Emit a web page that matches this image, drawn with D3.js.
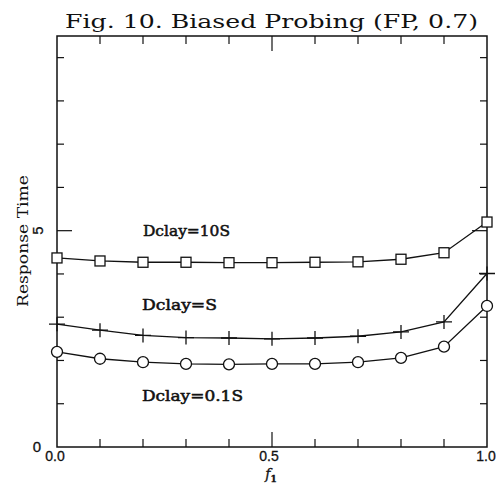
<!DOCTYPE html>
<html><head><meta charset="utf-8">
<script src="https://cdn.jsdelivr.net/npm/d3@7"></script>
<style>body{margin:0;background:#fff}svg{display:block}</style>
</head><body>
<script>
const xValues = [0.0,0.1,0.2,0.3,0.4,0.5,0.6,0.7,0.8,0.9,1.0];
const delay10S = [4.37,4.30,4.27,4.27,4.26,4.26,4.27,4.28,4.34,4.49,5.20];
const delayS   = [2.84,2.70,2.58,2.53,2.52,2.50,2.52,2.56,2.66,2.89,4.01];
const delay01S = [2.20,2.04,1.96,1.92,1.91,1.92,1.92,1.96,2.06,2.32,3.26];
const seriesLabels = ["Dclay=10S","Dclay=S","Dclay=0.1S"];
const xTickLabels = ["0.0","0.5","1.0"];
const yTickLabels = ["0","5"];
const titleText = "Fig. 10. Biased Probing (FP, 0.7)";

const W=503,H=493;
const L=57,R=487,T=36,B=447;
const svg=d3.select("body").append("svg").attr("width",W).attr("height",H);
const x=d3.scaleLinear().domain([0,1]).range([L,R]);
const y=d3.scaleLinear().domain([0,9.5]).range([B,T]);
const ink="#111";

// frame
svg.append("rect").attr("x",L).attr("y",T).attr("width",R-L).attr("height",B-T)
  .attr("fill","none").attr("stroke",ink).attr("stroke-width",1.5);

// ticks
const xt=d3.range(1,10).map(i=>i/10);
xt.forEach(v=>{
  const len = Math.abs(v-0.5)<1e-9?15:8;
  svg.append("line").attr("x1",x(v)).attr("x2",x(v)).attr("y1",B).attr("y2",B-len).attr("stroke",ink).attr("stroke-width",1.2);
  svg.append("line").attr("x1",x(v)).attr("x2",x(v)).attr("y1",T).attr("y2",T+len).attr("stroke",ink).attr("stroke-width",1.2);
});
const yt=d3.range(1,10);
yt.forEach(v=>{
  const len = v===5?15:7;
  svg.append("line").attr("x1",L).attr("x2",L+len).attr("y1",y(v)).attr("y2",y(v)).attr("stroke",ink).attr("stroke-width",1.2);
  svg.append("line").attr("x1",R).attr("x2",R-len).attr("y1",y(v)).attr("y2",y(v)).attr("stroke",ink).attr("stroke-width",1.2);
});

// tick labels
const tickFont="'Liberation Sans', Arial, sans-serif";
[0,0.5,1].forEach((v,i)=>{
  svg.append("text").attr("x",x(v)+(i===0?-2:(i===1?-3:-1))).attr("y",461)
    .attr("text-anchor","middle").attr("font-family",tickFont).attr("font-size",14)
    .attr("stroke",ink).attr("stroke-width",0.3)
    .attr("fill",ink).text(xTickLabels[i]);
});
svg.append("text").attr("x",37).attr("y",452).attr("text-anchor","middle")
  .attr("font-family",tickFont).attr("font-size",15).attr("stroke",ink).attr("stroke-width",0.3)
  .attr("fill",ink).text(yTickLabels[0]);
svg.append("text").attr("transform",`translate(43,${y(5)}) rotate(-90)`).attr("text-anchor","middle")
  .attr("font-family",tickFont).attr("font-size",15).attr("stroke",ink).attr("stroke-width",0.3)
  .attr("fill",ink).text(yTickLabels[1]);

// axis titles
svg.append("text").attr("transform","translate(28,241) rotate(-90)").attr("text-anchor","middle")
  .attr("font-family","'DejaVu Serif', serif").attr("font-size",15).attr("fill",ink)
  .attr("textLength",132).attr("lengthAdjust","spacingAndGlyphs").text("Response Time");
const fx=svg.append("text").attr("x",271).attr("y",479).attr("text-anchor","middle")
  .attr("font-family","'DejaVu Serif', serif").attr("font-size",14).attr("fill",ink)
  .attr("stroke",ink).attr("stroke-width",0.3);
fx.append("tspan").attr("font-style","italic").text("f");
fx.append("tspan").attr("font-size",9).attr("dy",3).attr("font-weight","bold").text("1");

// title
svg.append("text").attr("x",65).attr("y",28)
  .attr("font-family","'DejaVu Serif', serif").attr("font-size",19).attr("fill",ink)
  .attr("textLength",413).attr("lengthAdjust","spacingAndGlyphs").text(titleText);

// lines
const line=d3.line().x((d,i)=>x(xValues[i])).y(d=>y(d)).curve(d3.curveLinear);
[delay10S,delayS,delay01S].forEach(s=>{
  svg.append("path").attr("d",line(s)).attr("fill","none").attr("stroke",ink).attr("stroke-width",1.3);
});

// markers
svg.append("g").selectAll("rect").data(delay10S).join("rect")
  .attr("x",(d,i)=>x(xValues[i])-5).attr("y",d=>y(d)-5).attr("width",10).attr("height",10)
  .attr("fill","#fff").attr("stroke",ink).attr("stroke-width",1.3);
svg.append("g").selectAll("path").data(delayS).join("path")
  .attr("d",(d,i)=>{const cx=x(xValues[i]),cy=y(d);return `M${cx-8},${cy}H${cx+8}M${cx},${cy-7}V${cy+7}`;})
  .attr("stroke",ink).attr("stroke-width",1.3).attr("fill","none");
svg.append("g").selectAll("circle").data(delay01S).join("circle")
  .attr("cx",(d,i)=>x(xValues[i])).attr("cy",d=>y(d)).attr("r",5.5)
  .attr("fill","#fff").attr("stroke",ink).attr("stroke-width",1.3);

// series labels
const labFont="'DejaVu Serif', serif";
[[143,236,87],[142,310,75],[142,401,101]].forEach((p,i)=>{
  svg.append("text").attr("x",p[0]).attr("y",p[1]).attr("font-family",labFont)
    .attr("font-size",14).attr("fill",ink).attr("stroke",ink).attr("stroke-width",0.5)
    .attr("textLength",p[2]).attr("lengthAdjust","spacingAndGlyphs").text(seriesLabels[i]);
});
</script>
</body></html>
